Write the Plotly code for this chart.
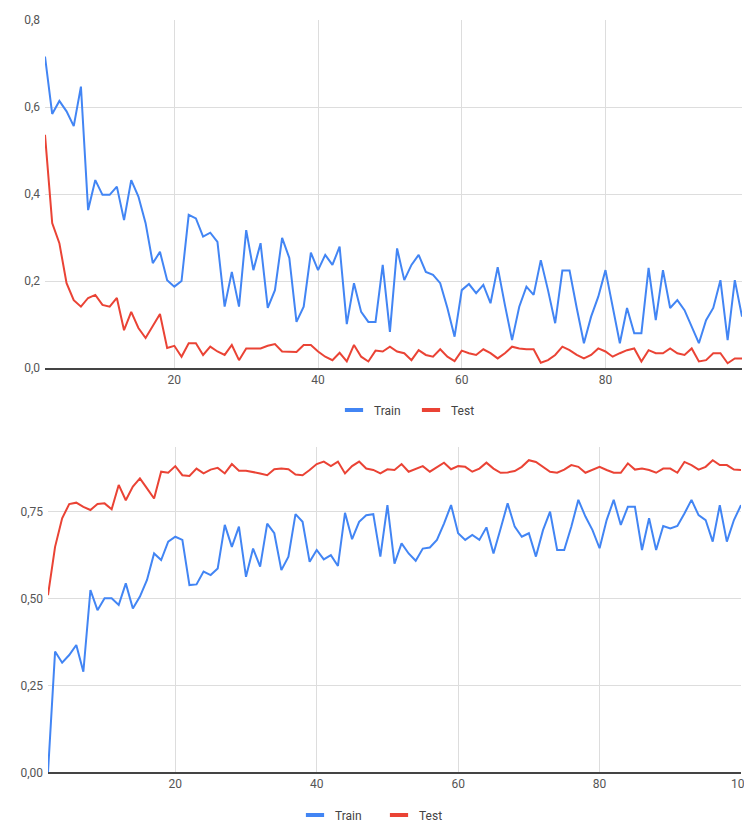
import plotly.graph_objects as go

# ---------------- data ----------------
loss_epochs = list(range(2, 100))
loss_train = [0.716, 0.584, 0.614, 0.59, 0.556, 0.647, 0.363, 0.432, 0.398, 0.398,
              0.417, 0.340, 0.432, 0.394, 0.333, 0.241, 0.267, 0.202, 0.187, 0.200,
              0.352, 0.344, 0.302, 0.311, 0.290, 0.141, 0.221, 0.141, 0.317, 0.225,
              0.287, 0.138, 0.179, 0.299, 0.253, 0.106, 0.141, 0.265, 0.225, 0.260,
              0.237, 0.279, 0.101, 0.195, 0.129, 0.106, 0.106, 0.237, 0.083, 0.275,
              0.202, 0.237, 0.260, 0.221, 0.214, 0.195, 0.138, 0.072, 0.179, 0.193,
              0.172, 0.191, 0.149, 0.232, 0.145, 0.064, 0.141, 0.187, 0.168, 0.248,
              0.179, 0.103, 0.224, 0.224, 0.138, 0.057, 0.118, 0.164, 0.225, 0.141,
              0.057, 0.138, 0.080, 0.080, 0.230, 0.110, 0.225, 0.138, 0.156, 0.133,
              0.095, 0.057, 0.110, 0.138, 0.202, 0.064, 0.202, 0.118]
loss_test = [0.536, 0.333, 0.287, 0.195, 0.156, 0.141, 0.161, 0.168, 0.145, 0.141,
             0.161, 0.087, 0.129, 0.092, 0.069, 0.095, 0.124, 0.046, 0.051, 0.026,
             0.057, 0.057, 0.030, 0.049, 0.038, 0.030, 0.053, 0.018, 0.045, 0.045,
             0.045, 0.051, 0.055, 0.038, 0.037, 0.037, 0.053, 0.053, 0.038, 0.026,
             0.018, 0.035, 0.015, 0.053, 0.026, 0.015, 0.040, 0.038, 0.049, 0.038,
             0.034, 0.018, 0.041, 0.030, 0.026, 0.043, 0.026, 0.016, 0.040, 0.034,
             0.030, 0.043, 0.034, 0.022, 0.034, 0.049, 0.045, 0.043, 0.043, 0.012,
             0.018, 0.030, 0.049, 0.041, 0.030, 0.022, 0.030, 0.045, 0.038, 0.026,
             0.034, 0.041, 0.045, 0.015, 0.041, 0.034, 0.034, 0.045, 0.034, 0.030,
             0.045, 0.015, 0.018, 0.034, 0.034, 0.011, 0.022, 0.022]

acc_epochs = list(range(2, 101))
acc_train = [0.000, 0.347, 0.315, 0.337, 0.366, 0.289, 0.524, 0.466, 0.500, 0.500,
             0.481, 0.543, 0.471, 0.505, 0.553, 0.629, 0.610, 0.663, 0.677, 0.668,
             0.538, 0.540, 0.577, 0.567, 0.586, 0.711, 0.648, 0.706, 0.562, 0.643,
             0.591, 0.715, 0.687, 0.581, 0.620, 0.742, 0.720, 0.605, 0.639, 0.612,
             0.624, 0.593, 0.746, 0.670, 0.720, 0.739, 0.742, 0.620, 0.768, 0.600,
             0.658, 0.629, 0.608, 0.643, 0.646, 0.668, 0.715, 0.768, 0.687, 0.668,
             0.682, 0.668, 0.704, 0.629, 0.700, 0.773, 0.706, 0.677, 0.687, 0.620,
             0.696, 0.749, 0.639, 0.639, 0.706, 0.783, 0.735, 0.696, 0.644, 0.725,
             0.783, 0.711, 0.763, 0.763, 0.639, 0.730, 0.639, 0.708, 0.701, 0.708,
             0.744, 0.783, 0.739, 0.725, 0.663, 0.768, 0.663, 0.725, 0.768]
acc_test = [0.509, 0.648, 0.730, 0.771, 0.775, 0.763, 0.754, 0.771, 0.773, 0.756,
            0.826, 0.782, 0.821, 0.845, 0.816, 0.787, 0.864, 0.861, 0.880, 0.854,
            0.852, 0.873, 0.859, 0.870, 0.875, 0.859, 0.886, 0.867, 0.867, 0.864,
            0.859, 0.854, 0.871, 0.873, 0.871, 0.856, 0.854, 0.869, 0.886, 0.893,
            0.880, 0.893, 0.859, 0.880, 0.893, 0.873, 0.869, 0.859, 0.871, 0.869,
            0.886, 0.864, 0.873, 0.880, 0.864, 0.878, 0.890, 0.871, 0.880, 0.878,
            0.864, 0.873, 0.890, 0.873, 0.861, 0.862, 0.866, 0.878, 0.897, 0.892,
            0.878, 0.864, 0.861, 0.870, 0.883, 0.878, 0.861, 0.870, 0.878, 0.869,
            0.861, 0.861, 0.888, 0.870, 0.873, 0.869, 0.861, 0.873, 0.873, 0.861,
            0.892, 0.883, 0.870, 0.878, 0.897, 0.883, 0.883, 0.870, 0.869]

series_names = ["Train", "Test"]
x_ticks_top = [20, 40, 60, 80]
x_ticks_bottom = [20, 40, 60, 80, 100]

# ---------------- styling ----------------
BLUE = "#4285F4"
RED = "#EA4335"
COLORS = [BLUE, RED]
FONT = "Roboto"
TICK_COLOR = "#555555"
GRID = "#dddddd"
OFF = 8                      # page body margin offset
W, H = 752 - OFF, 824 - OFF


def px(v):
    return (v - OFF) / W


def py(v):
    return 1 - (v - OFF) / H


fig = go.Figure()
panels = [
    ("x", "y", "legend", loss_epochs, [loss_train, loss_test]),
    ("x2", "y2", "legend2", acc_epochs, [acc_train, acc_test]),
]
for xa, ya, leg, xs, ys_list in panels:
    for name, ys, col in zip(series_names, ys_list, COLORS):
        fig.add_trace(go.Scatter(x=xs, y=ys, name=name, mode="lines",
                                 line=dict(color=col, width=2), xaxis=xa, yaxis=ya,
                                 showlegend=False))
    # legend swatches (short thick dash, as in the reference)
    for name, col in zip(series_names, COLORS):
        fig.add_trace(go.Scatter(x=[None], y=[None], name=name, mode="markers",
                                 marker=dict(symbol="line-ew", size=13,
                                             line=dict(width=4, color=col)),
                                 xaxis=xa, yaxis=ya, legend=leg, showlegend=True,
                                 hoverinfo="skip"))

axis_font = dict(family=FONT, size=12, color=TICK_COLOR)
xcommon = dict(showgrid=True, gridcolor=GRID, gridwidth=1, zeroline=False,
               showline=True, linecolor="#444444", linewidth=1.5, ticks="",
               tickfont=axis_font, fixedrange=True, automargin=False)
ycommon = dict(showgrid=True, gridcolor=GRID, gridwidth=1, zeroline=False,
               showline=False, ticks="", tickfont=axis_font, fixedrange=True,
               automargin=False, ticklabelstandoff=4)

leg_font = dict(family=FONT, size=12, color="#444444")

fig.update_layout(
    width=W, height=H,
    margin=dict(l=0, r=0, t=0, b=0, autoexpand=False),
    paper_bgcolor="white", plot_bgcolor="white",
    separators=", ",
    font=dict(family=FONT, size=12, color="#444444"),
    xaxis=dict(domain=[px(45), px(742)], range=[2, 99], tickvals=x_ticks_top,
               anchor="y", **xcommon),
    yaxis=dict(domain=[py(368), py(20)], range=[0, 0.8], dtick=0.2,
               tickformat=".1f", anchor="x", **ycommon),
    xaxis2=dict(domain=[px(48), px(741)], range=[2, 100], tickvals=x_ticks_bottom,
                anchor="y2", **xcommon),
    yaxis2=dict(domain=[py(772.3), py(447)], range=[0, 0.935], dtick=0.25,
                tickformat=".2f", anchor="x2", **ycommon),
    legend=dict(orientation="h", x=px(334), xanchor="left", y=py(410), yanchor="middle",
                font=leg_font, itemwidth=30, entrywidth=32, bgcolor="rgba(0,0,0,0)",
                itemclick=False, itemdoubleclick=False),
    legend2=dict(orientation="h", x=px(295), xanchor="left", y=py(815), yanchor="middle",
                 font=leg_font, itemwidth=30, entrywidth=39, bgcolor="rgba(0,0,0,0)",
                 itemclick=False, itemdoubleclick=False),
    showlegend=True,
)

fig.write_html("out.html")
